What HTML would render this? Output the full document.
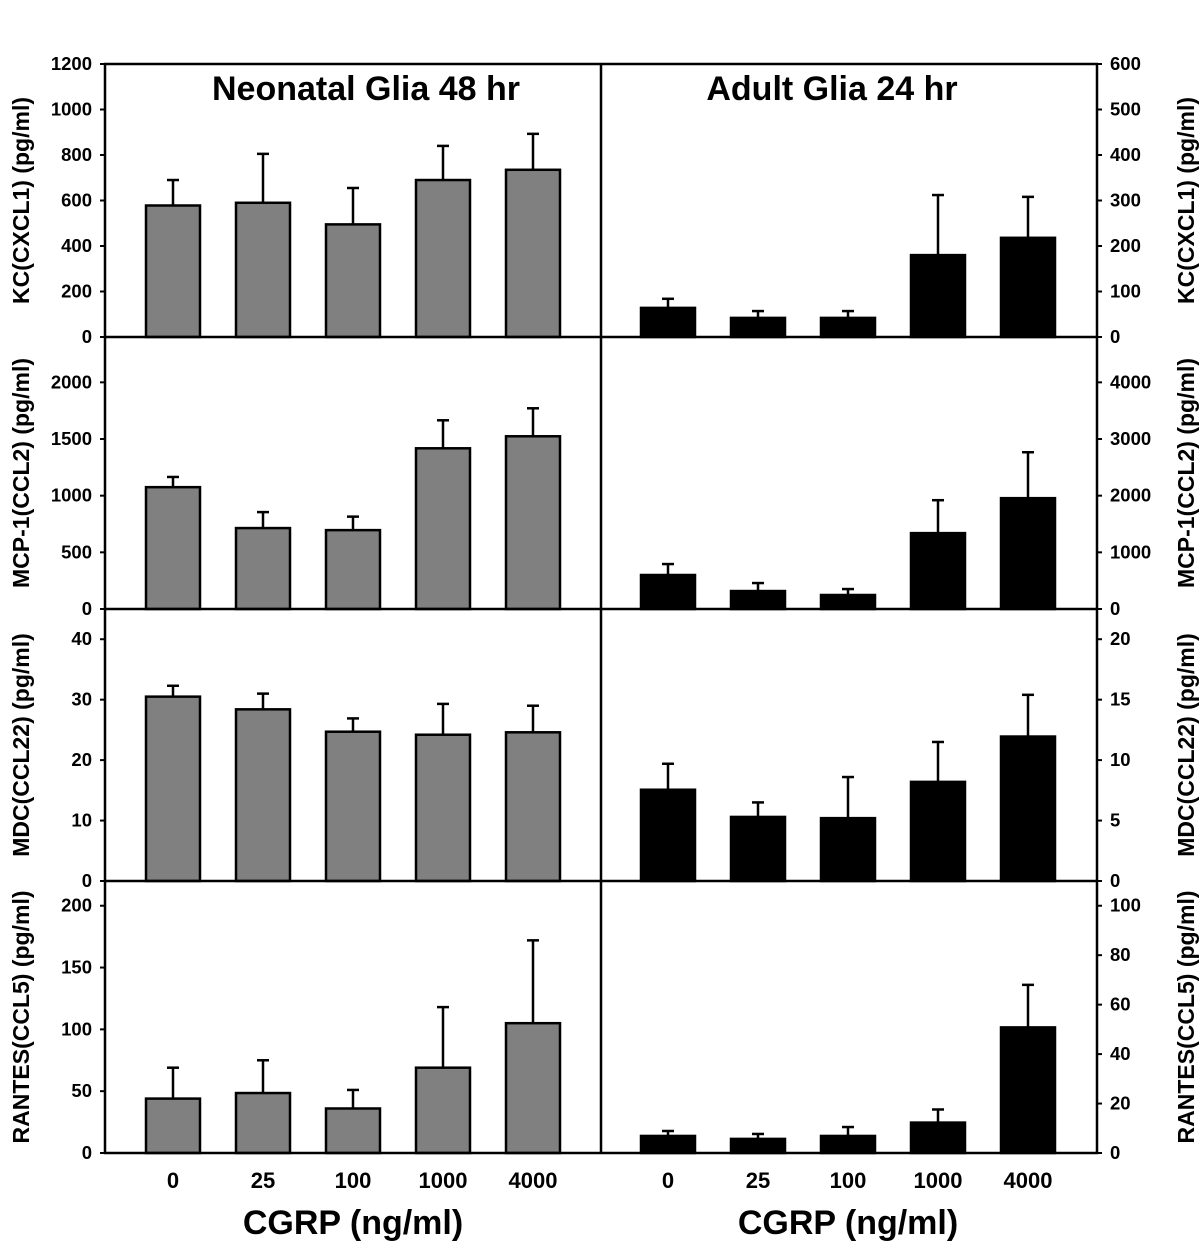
<!DOCTYPE html>
<html><head><meta charset="utf-8"><style>
body{margin:0;background:#fff;}
svg text{font-family:"Liberation Sans",Arial,sans-serif;font-weight:bold;fill:#000;}
</style></head><body>
<svg id="c" width="1200" height="1245" viewBox="0 0 1200 1245" xmlns="http://www.w3.org/2000/svg"></svg>
<script>
const categories = ["0","25","100","1000","4000"];
const rowTitles = ["KC(CXCL1) (pg/ml)","MCP-1(CCL2) (pg/ml)","MDC(CCL22) (pg/ml)","RANTES(CCL5) (pg/ml)"];
const leftMax = [1200,2400,45,220];
const rightMax = [600,4800,22.5,110];
const leftTicks = [[0,200,400,600,800,1000,1200],[0,500,1000,1500,2000],[0,10,20,30,40],[0,50,100,150,200]];
const rightTicks = [[0,100,200,300,400,500,600],[0,1000,2000,3000,4000],[0,5,10,15,20],[0,20,40,60,80,100]];
const neoKC = [578,590,495,690,735];
const neoKCerr = [690,805,655,840,893];
const adKC = [64,42,42,180,218];
const adKCerr = [84,57,57,312,308];
const neoMCP = [1075,714,696,1418,1524];
const neoMCPerr = [1165,855,815,1665,1771];
const adMCP = [600,317,247,1339,1956];
const adMCPerr = [793,458,352,1920,2766];
const neoMDC = [30.5,28.4,24.7,24.2,24.6];
const neoMDCerr = [32.3,31.0,26.9,29.3,29.0];
const adMDC = [7.55,5.3,5.2,8.2,11.95];
const adMDCerr = [9.7,6.5,8.6,11.5,15.4];
const neoRANTES = [44,48.5,36,69,105];
const neoRANTESerr = [69,75,51,118,172];
const adRANTES = [6.9,5.7,6.9,12.3,50.8];
const adRANTESerr = [8.9,7.7,10.5,17.6,68];
const leftData = [[neoKC,neoKCerr],[neoMCP,neoMCPerr],[neoMDC,neoMDCerr],[neoRANTES,neoRANTESerr]];
const rightData = [[adKC,adKCerr],[adMCP,adMCPerr],[adMDC,adMDCerr],[adRANTES,adRANTESerr]];

const svg = document.getElementById('c');
const NS = "http://www.w3.org/2000/svg";
function mk(tag, attrs, parent){const e=document.createElementNS(NS,tag);for(const k in attrs)e.setAttribute(k,attrs[k]);(parent||svg).appendChild(e);return e;}
const rowTop = [64,337,609,881], rowBot = [337,609,881,1153];
const xL = i => 173 + i*90;
const xR = i => 668 + i*90;

for(let r=0;r<4;r++){
  const yS = (max) => v => rowBot[r] - v/max*(rowBot[r]-rowTop[r]);
  const yl = yS(leftMax[r]), yr = yS(rightMax[r]);
  [[leftData[r], yl, xL, '#808080','neonatal'],[rightData[r], yr, xR, '#000','adult']].forEach(([d,ys,xf,fill,nm])=>{
    const vals=d[0], errs=d[1];
    vals.forEach((v,i)=>{
      const e=mk('line',{x1:xf(i),x2:xf(i),y1:ys(errs[i]),y2:ys(v),stroke:'#000','stroke-width':2.5});
      
      
      const c=mk('line',{x1:xf(i)-6,x2:xf(i)+6,y1:ys(errs[i]),y2:ys(errs[i]),stroke:'#000','stroke-width':2.5});
      
      
      const b=mk('rect',{x:xf(i)-27,y:ys(v),width:54,height:rowBot[r]-ys(v),fill:fill,stroke:'#000','stroke-width':2.5});
      
      
    });
  });
  leftTicks[r].forEach(t=>{
    const y=yl(t);
    mk('line',{x1:100,x2:105,y1:y,y2:y,stroke:'#000','stroke-width':2});
    const tx=mk('text',{x:92,y:y+6,'text-anchor':'end','font-size':18.5});tx.textContent=t;
    
    
  });
  rightTicks[r].forEach(t=>{
    const y=yr(t);
    mk('line',{x1:1097,x2:1102,y1:y,y2:y,stroke:'#000','stroke-width':2});
    const tx=mk('text',{x:1110,y:y+6,'text-anchor':'start','font-size':18.5});tx.textContent=t;
    
    
  });
  const cy=(rowTop[r]+rowBot[r])/2;
  const lt=mk('text',{x:0,y:0,'text-anchor':'middle','font-size':23,transform:`translate(29,${cy}) rotate(-90)`});lt.textContent=rowTitles[r];
  
  
  const rt=mk('text',{x:0,y:0,'text-anchor':'middle','font-size':23,transform:`translate(1194,${cy}) rotate(-90)`});rt.textContent=rowTitles[r];
  
  
}
mk('rect',{x:105,y:64,width:992,height:1089,fill:'none',stroke:'#000','stroke-width':2.5});
mk('line',{x1:601,x2:601,y1:64,y2:1153,stroke:'#000','stroke-width':2.5});
[337,609,881].forEach(y=>mk('line',{x1:105,x2:1097,y1:y,y2:y,stroke:'#000','stroke-width':2.5}));
categories.forEach((c,i)=>{
  [xL(i),xR(i)].forEach(x=>{
    const t=mk('text',{x:x,y:1188,'text-anchor':'middle','font-size':22});t.textContent=c;
    
    
  });
});
[[353,'CGRP (ng/ml)'],[848,'CGRP (ng/ml)'],[366,'Neonatal Glia 48 hr'],[832,'Adult Glia 24 hr']].forEach(([x,s],k)=>{
  const t=mk('text',{x:x,y:k<2?1234:100,'text-anchor':'middle','font-size':k<2?34:34});t.textContent=s;
  
  
});
</script>
</body></html>
